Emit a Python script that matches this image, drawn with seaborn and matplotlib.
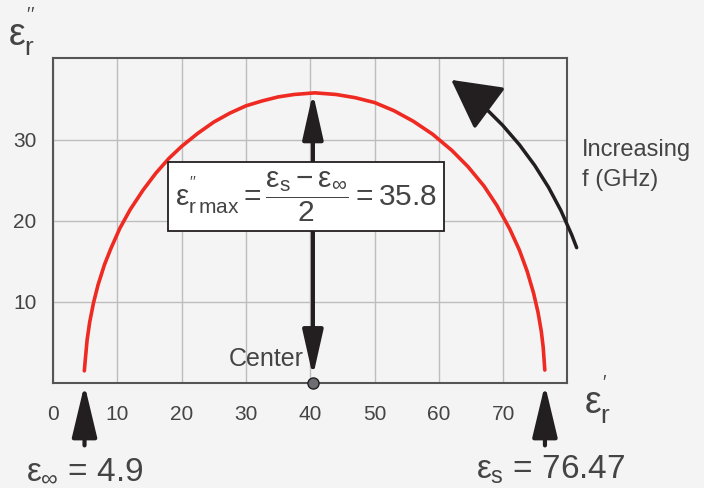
import matplotlib
matplotlib.use("Agg")
import matplotlib.pyplot as plt
import seaborn as sns
import pandas as pd

# data
eps_real = [4.87, 5.0, 5.3, 5.7, 6.3, 7.0, 8.0, 9.0, 10.4, 12.0, 14.0, 16.0, 18.0,
            20.0, 22.5, 25.0, 27.5, 30.0, 32.5, 35.0, 37.5, 40.7, 44.0, 47.0, 50.0,
            53.0, 56.0, 59.0, 62.0, 64.5, 67.0, 69.0, 71.0, 72.5, 73.7, 74.7, 75.4,
            75.9, 76.2, 76.45]
eps_imag = [1.5, 2.7, 5.3, 7.5, 9.9, 12.1, 14.6, 16.6, 19.1, 21.4, 23.8, 25.9, 27.7,
            29.2, 30.8, 32.2, 33.3, 34.2, 34.8, 35.3, 35.6, 35.8, 35.6, 35.2, 34.6,
            33.6, 32.3, 30.7, 28.7, 26.7, 24.3, 21.9, 19.0, 16.4, 13.8, 11.1, 8.7,
            6.4, 4.4, 1.6]
x_ticks = [0, 10, 20, 30, 40, 50, 60, 70]
y_ticks = [10, 20, 30]
eps_inf = 4.9
eps_s = 76.47
eps_max = 35.8
center = 40.7

sns.set_theme(style="whitegrid")
plt.rcParams['font.family'] = ['Liberation Sans', 'DejaVu Sans']
plt.rcParams['mathtext.fontset'] = 'custom'
plt.rcParams['mathtext.rm'] = 'Liberation Sans'
plt.rcParams['mathtext.it'] = 'Liberation Sans'
plt.rcParams['mathtext.bf'] = 'Liberation Sans:bold'

BG = '#f4f4f4'
TXT = '#444444'
fig = plt.figure(figsize=(7.04, 4.88), dpi=100, facecolor=BG)
ax = fig.add_axes([53/704, 1-383/488, (567-53)/704, (383-58)/488])
ax.set_facecolor(BG)

df = pd.DataFrame({"er": eps_real, "ei": eps_imag})
sns.lineplot(data=df, x="er", y="ei", sort=False, color='#ee2a22', lw=2.6, ax=ax)

ax.set_xlim(0, 79.9)
ax.set_ylim(0, 40.1)
ax.set_xticks(x_ticks)
ax.set_yticks(y_ticks)
ax.grid(True, color='#bdbdbd', lw=1.0)
for s in ax.spines.values():
    s.set_color('#555555')
    s.set_linewidth(1.5)
ax.tick_params(axis='both', length=0, labelsize=15, labelcolor=TXT)
ax.tick_params(axis='x', pad=16)
ax.tick_params(axis='y', pad=12)
ax.set_xlabel("")
ax.set_ylabel("")

# axis labels
fig.text(8/704, 1-45/488, r"$\varepsilon_r^{''}$", fontsize=27, color=TXT)
fig.text(584/704, 1-414/488, r"$\varepsilon_r^{'}$", fontsize=27, color=TXT)

# vertical double arrow at center
arrow_kw = dict(arrowstyle="-|>,head_length=2.0,head_width=0.45", color='#231f20',
                lw=3, mutation_scale=14, shrinkA=0, shrinkB=0)
ax.annotate("", xy=(center - 0.3, eps_max), xytext=(center - 0.3, 18), arrowprops=arrow_kw)
ax.annotate("", xy=(center - 0.3, 0.8), xytext=(center - 0.3, 18), arrowprops=arrow_kw)
ax.plot([center - 0.3], [0], 'o', ms=8, mfc='#6d6e71', mec='#231f20', mew=1, clip_on=False, zorder=5)
ax.text(center - 1.7, 3.0, "Center", ha='right', va='center', fontsize=18, color=TXT)

# bottom arrows
bot_kw = dict(arrowstyle="-|>,head_length=2.3,head_width=0.55", color='#231f20',
              lw=3, mutation_scale=14, shrinkA=0, shrinkB=0)
ax.annotate("", xy=(eps_inf, -0.2), xytext=(eps_inf, -7.7), arrowprops=bot_kw, annotation_clip=False)
ax.annotate("", xy=(eps_s, -0.2), xytext=(eps_s, -7.7), arrowprops=bot_kw, annotation_clip=False)

fig.text(26/704, 1-479/488, r"$\varepsilon_{\infty}$ = 4.9", fontsize=24, color=TXT)
fig.text(476/704, 1-479/488, r"$\varepsilon_s$ = 76.47", fontsize=24, color=TXT)

# curved arrow
ax.annotate("", xy=(61.9, 37.4), xytext=(81.4, 16.7),
            arrowprops=dict(arrowstyle="-|>,head_length=1.4,head_width=0.75", color='#231f20',
                            lw=2.5, mutation_scale=22, shrinkA=0, shrinkB=0,
                            connectionstyle="arc3,rad=0.15"),
            annotation_clip=False)
fig.text(582/704, 1-165/488, "Increasing\nf (GHz)", fontsize=17, color=TXT, va='center',
         linespacing=1.5)

# equation box
ax.text(39.35, 23.0,
        r"$\varepsilon^{''}_{r\,\mathrm{max}}=\dfrac{\varepsilon_s - \varepsilon_{\infty}}{2}=35.8$",
        ha='center', va='center', fontsize=21.5, color=TXT, zorder=6,
        bbox=dict(boxstyle='square,pad=0.24', fc='white', ec='#231f20', lw=1.3))

fig.savefig("out.png", dpi=100, facecolor=BG)
